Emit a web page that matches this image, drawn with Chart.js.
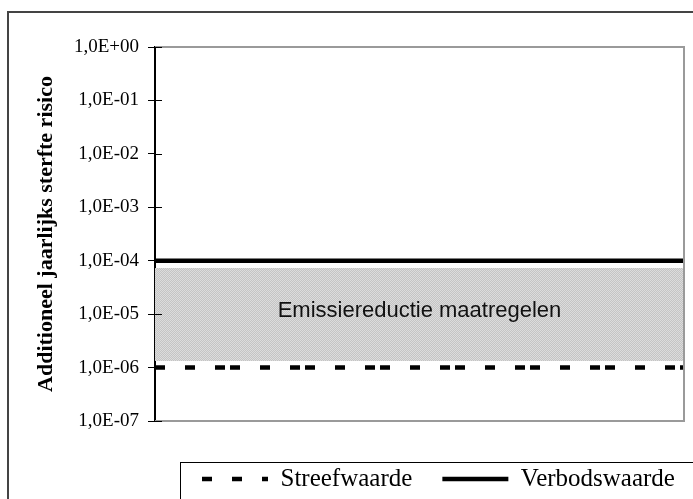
<!DOCTYPE html>
<html>
<head>
<meta charset="utf-8">
<script src="https://cdn.jsdelivr.net/npm/chart.js@4.4.1/dist/chart.umd.min.js"></script>
<style>
    body { margin: 0; background: #ffffff; }
    .content { position: relative; width: 693px; height: 499px; }
</style>
</head>
<body>
<div class="content">
    <canvas id="chartCanvas"></canvas>
</div>
<script>
// waarden uit de figuur
var xRange = [0, 1];
var streefwaarde = [1e-6, 1e-6];
var verbodswaarde = [1e-4, 1e-4];
var bandTop = [7.3e-5, 7.3e-5];
var bandBottom = [1.33e-6, 1.33e-6];
var bandLabel = 'Emissiereductie maatregelen';
var bandLabelY = 1.15e-5;
var yTickValues = [1e-7, 1e-6, 1e-5, 1e-4, 1e-3, 1e-2, 1e-1, 1];
var yTickLabels = ['1,0E-07', '1,0E-06', '1,0E-05', '1,0E-04', '1,0E-03', '1,0E-02', '1,0E-01', '1,0E+00'];
var yTitle = 'Additioneel jaarlijks sterfte risico';

var serif = "'Times New Roman', 'Liberation Serif', serif";
var sans = "Arial, 'Liberation Sans', sans-serif";

function points(values) {
    return values.map(function (v, i) { return { x: xRange[i], y: v }; });
}

// fijn grijs rasterpatroon voor het vlak
function makePattern() {
    var c = document.createElement('canvas');
    c.width = 2; c.height = 2;
    var p = c.getContext('2d');
    p.fillStyle = '#c4c4c4';
    p.fillRect(0, 0, 2, 2);
    p.fillStyle = '#dcdcdc';
    p.fillRect(0, 0, 1, 1);
    p.fillRect(1, 1, 1, 1);
    return p.createPattern(c, 'repeat');
}

var LEGEND_PAD = 30;

var framePlugin = {
    id: 'frame',
    afterLayout: function (chart) {
        // legenda op de plek uit het origineel zetten (ook de clip-rand)
        var lg = chart.legend;
        lg.left = 202 - LEGEND_PAD;
        lg.top = 466.5 - LEGEND_PAD;
        lg.right = chart.width + 200;
        lg.bottom = chart.height;
    },
    beforeDraw: function (chart) {
        var c = chart.ctx;
        c.save();
        c.strokeStyle = '#444444';
        c.lineWidth = 2;
        c.strokeRect(8, 12, 800, 600);
        c.restore();
    },
    afterDatasetsDraw: function (chart) {
        var c = chart.ctx;
        var a = chart.chartArea;
        var y = chart.scales.y;
        c.save();
        // grijs kader rond het plotvlak
        c.strokeStyle = '#9a9a9a';
        c.lineWidth = 2;
        c.beginPath();
        c.moveTo(a.left, a.top);
        c.lineTo(a.right, a.top);
        c.lineTo(a.right, a.bottom);
        c.lineTo(a.left, a.bottom);
        c.stroke();
        // tekst in het vlak
        c.fillStyle = '#111111';
        c.font = '22px ' + sans;
        c.textAlign = 'center';
        c.textBaseline = 'middle';
        c.fillText(bandLabel, (a.left + a.right) / 2, y.getPixelForValue(bandLabelY));
        // tickjes aan de binnenkant
        c.strokeStyle = '#000000';
        c.lineWidth = 1;
        y.ticks.forEach(function (t) {
            var py = Math.round(y.getPixelForValue(t.value)) + 0.5;
            c.beginPath();
            c.moveTo(a.left, py);
            c.lineTo(a.left + 7, py);
            c.stroke();
        });
        c.restore();
    },
    afterDraw: function (chart) {
        var c = chart.ctx;
        c.save();
        c.strokeStyle = '#000000';
        c.lineWidth = 1;
        c.strokeRect(180.5, 462.5, 700, 100);
        c.restore();
    }
};

var ctx = document.getElementById('chartCanvas').getContext('2d');
var bandFill = makePattern();

var myChart = new Chart(ctx, {
    type: 'line',
    data: {
        datasets: [{
            label: 'Streefwaarde',
            data: points(streefwaarde),
            borderColor: '#000000',
            backgroundColor: '#000000',
            borderWidth: 4.5,
            borderDash: [10, 20, 10, 20, 10, 5],
            pointRadius: 0,
            fill: false
        }, {
            label: 'Verbodswaarde',
            data: points(verbodswaarde),
            borderColor: '#000000',
            backgroundColor: '#000000',
            borderWidth: 4.5,
            pointRadius: 0,
            fill: false
        }, {
            label: 'bandTop',
            data: points(bandTop),
            borderWidth: 0,
            borderColor: 'rgba(0,0,0,0)',
            backgroundColor: bandFill,
            pointRadius: 0,
            fill: '+1'
        }, {
            label: 'bandBottom',
            data: points(bandBottom),
            borderWidth: 0,
            borderColor: 'rgba(0,0,0,0)',
            pointRadius: 0,
            fill: false
        }]
    },
    options: {
        responsive: true,
        maintainAspectRatio: false,
        animation: false,
        events: [],
        layout: {
            padding: { top: 47, right: 9, bottom: 13, left: 0 }
        },
        scales: {
            x: {
                type: 'linear',
                min: xRange[0],
                max: xRange[1],
                display: false
            },
            y: {
                type: 'logarithmic',
                min: yTickValues[0],
                max: yTickValues[yTickValues.length - 1],
                afterBuildTicks: function (scale) {
                    scale.ticks = yTickValues.map(function (v) { return { value: v }; });
                },
                afterFit: function (scale) {
                    scale.width = 155;
                },
                border: { color: '#000000', width: 2 },
                grid: {
                    drawOnChartArea: false,
                    color: '#000000',
                    tickLength: 7
                },
                ticks: {
                    color: '#000000',
                    padding: 9,
                    font: { family: serif, size: 19 },
                    callback: function (value, index) {
                        return yTickLabels[index];
                    }
                },
                title: {
                    display: true,
                    text: yTitle,
                    color: '#000000',
                    font: { family: serif, size: 22, weight: 'bold' },
                    padding: { top: 33, bottom: 0 }
                }
            }
        },
        plugins: {
            legend: {
                position: 'bottom',
                align: 'start',
                labels: {
                    color: '#000000',
                    font: { family: serif, size: 25 },
                    usePointStyle: true,
                    pointStyle: 'line',
                    pointStyleWidth: 66,
                    padding: LEGEND_PAD,
                    generateLabels: function (chart) {
                        var items = Chart.defaults.plugins.legend.labels.generateLabels(chart);
                        items.forEach(function (item) {
                            var ds = chart.data.datasets[item.datasetIndex];
                            item.lineDash = ds.borderDash || [];
                            item.lineWidth = ds.borderWidth;
                            item.strokeStyle = ds.borderColor;
                        });
                        return items;
                    },
                    filter: function (item) {
                        return item.text.indexOf('band') !== 0;
                    }
                }
            },
            tooltip: { enabled: false }
        }
    },
    plugins: [framePlugin]
});
</script>
</body>
</html>
